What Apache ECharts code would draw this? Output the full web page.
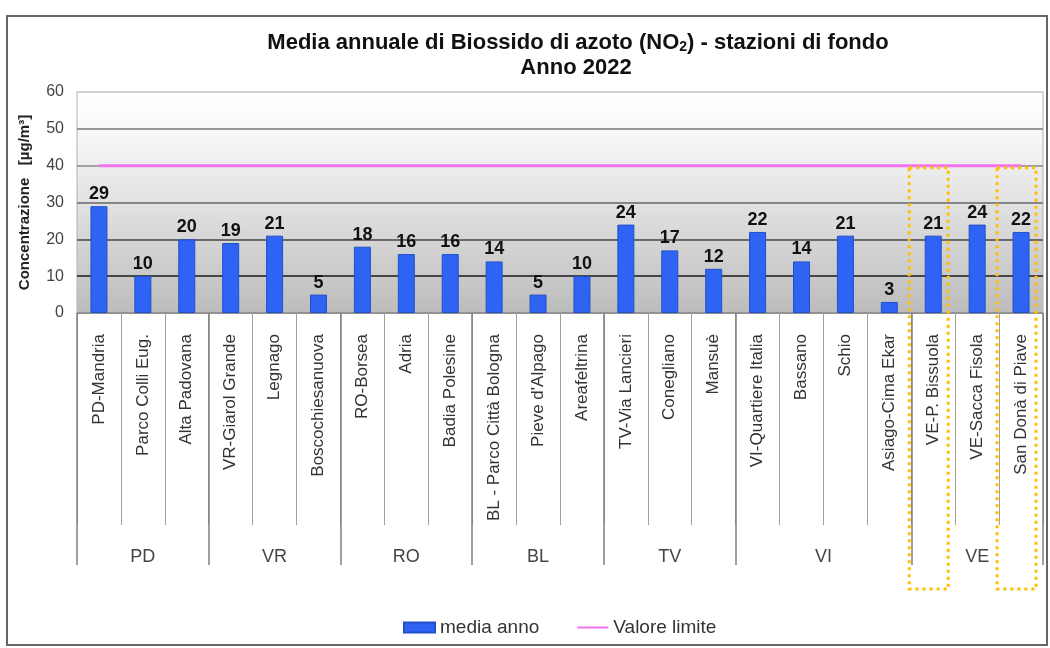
<!DOCTYPE html>
<html>
<head>
<meta charset="utf-8">
<script src="https://cdn.jsdelivr.net/npm/echarts@6/dist/echarts.min.js"></script>
<style>
  html, body { margin: 0; padding: 0; background: #fff; }
  #main { width: 1050px; height: 648px; }
</style>
</head>
<body>
<div id="main"></div>
<script>
// stazioni di fondo, media annuale NO2 2022
var stations = ['PD-Mandria', 'Parco Colli Eug.', 'Alta Padovana', 'VR-Giarol Grande', 'Legnago',
    'Boscochiesanuova', 'RO-Borsea', 'Adria', 'Badia Polesine', 'BL - Parco Città Bologna',
    "Pieve d'Alpago", 'Areafeltrina', 'TV-Via Lancieri', 'Conegliano', 'Mansuè',
    'VI-Quartiere Italia', 'Bassano', 'Schio', 'Asiago-Cima Ekar', 'VE-P. Bissuola',
    'VE-Sacca Fisola', 'San Donà di Piave'];
var mediaAnno = [29, 10, 20, 19, 21, 5, 18, 16, 16, 14, 5, 10, 24, 17, 12, 22, 14, 21, 3, 21, 24, 22];
var valoreLimite = 40;
var provinces = ['PD', 'VR', 'RO', 'BL', 'TV', 'VI', 'VE'];
var provinceSizes = [3, 3, 3, 3, 3, 4, 3];
var yTicks = [0, 10, 20, 30, 40, 50, 60];
var highlighted = ['VE-P. Bissuola', 'San Donà di Piave'];

var font = "'Liberation Sans', Arial, sans-serif";

// confini e centri dei gruppi (provincia)
var bounds = [0], mids = [];
provinceSizes.forEach(function (n, i) {
    var start = bounds[bounds.length - 1];
    mids.push(start + n / 2);
    bounds.push(start + n);
});

var chart = echarts.init(document.getElementById('main'));

chart.setOption({
    animation: false,
    legend: {
        bottom: 11,
        left: 403,
        padding: 0,
        itemGap: 37,
        itemWidth: 31,
        itemHeight: 10,
        textStyle: { fontFamily: font, fontSize: 19, color: '#333' },
        data: [
            { name: 'media anno', icon: 'rect' },
            { name: 'Valore limite', itemStyle: { opacity: 0 } }
        ]
    },
    grid: {
        left: 77,
        right: 7,
        top: 92,
        bottom: 335,
        show: true,
        borderColor: '#b0b0b0',
        borderWidth: 1,
        backgroundColor: new echarts.graphic.LinearGradient(0, 0, 0, 1, [
            { offset: 0, color: '#ffffff' },
            { offset: 0.17, color: '#f9f9f9' },
            { offset: 0.5, color: '#e2e2e2' },
            { offset: 1, color: '#bcbcbc' }
        ])
    },
    xAxis: [{
        type: 'category',
        data: stations,
        boundaryGap: true,
        axisLine: { lineStyle: { color: '#909090' } },
        axisTick: { show: true, interval: 0, length: 212, lineStyle: { color: '#a0a0a0' } },
        axisLabel: {
            interval: 0, rotate: 90, margin: 21,
            fontFamily: font, fontSize: 17, color: '#333'
        }
    }, {
        type: 'value',
        min: 0,
        max: stations.length,
        position: 'bottom',
        axisLine: { show: false },
        splitLine: { show: false },
        axisTick: { show: true, length: 252, customValues: bounds, lineStyle: { color: '#808080', width: 1.5 } },
        axisLabel: {
            customValues: mids,
            margin: 235,
            fontFamily: font, fontSize: 18, color: '#444',
            formatter: function (v) {
                var i = mids.indexOf(v);
                return i >= 0 ? provinces[i] : '';
            }
        }
    }],
    yAxis: {
        type: 'value',
        min: yTicks[0],
        max: yTicks[yTicks.length - 1],
        interval: 10,
        name: 'Concentrazione   [µg/m³]',
        nameLocation: 'middle',
        nameGap: 45,
        nameTextStyle: { fontFamily: font, fontSize: 15, fontWeight: 'bold', color: '#222' },
        axisLine: { show: false },
        axisTick: { show: false },
        axisLabel: { margin: 13, fontFamily: font, fontSize: 16, color: '#444' },
        splitLine: {
            lineStyle: { color: ['#888888', '#1a1a1a', '#444444', '#666666', '#888888', '#777777', '#cccccc'], width: 1.5 }
        }
    },
    series: [{
        name: 'media anno',
        type: 'bar',
        data: mediaAnno,
        barWidth: 17,
        itemStyle: { color: '#2e63f4', borderColor: '#2350c8', borderWidth: 1 },
        label: {
            show: true, position: 'top', distance: 3,
            fontFamily: font, fontSize: 18, fontWeight: 'bold', color: '#111'
        }
    }, {
        name: 'Valore limite',
        type: 'line',
        data: stations.map(function () { return valoreLimite; }),
        symbol: 'none',
        lineStyle: { color: '#f272ef', width: 3 },
        itemStyle: { color: '#f272ef' },
        z: 3
    }],
    graphic: [{
        type: 'rect',
        id: 'frame',
        shape: { x: 7, y: 16, width: 1040, height: 629 },
        style: { fill: 'none', stroke: '#666', lineWidth: 2 },
        silent: true
    }, {
        type: 'text',
        id: 'title1',
        x: 578, y: 43,
        style: {
            text: 'Media annuale di Biossido di azoto (NO{sub|2}) - stazioni di fondo',
            align: 'center', verticalAlign: 'middle',
            fontFamily: font, fontSize: 22, fontWeight: 'bold', fill: '#111',
            rich: {
                sub: { fontFamily: font, fontSize: 14, fontWeight: 'bold', fill: '#111', padding: [9, 0, 0, 0] }
            }
        }
    }, {
        type: 'text',
        id: 'title2',
        x: 576, y: 68,
        style: {
            text: 'Anno 2022',
            align: 'center', verticalAlign: 'middle',
            fontFamily: font, fontSize: 22, fontWeight: 'bold', fill: '#111'
        }
    }]
});

// riquadri tratteggiati sulle stazioni evidenziate
var boxes = highlighted.map(function (name, k) {
    var cx = chart.convertToPixel({ xAxisIndex: 0 }, name);
    var top = chart.convertToPixel({ yAxisIndex: 0 }, valoreLimite) + 2;
    return {
        type: 'rect',
        id: 'box' + k,
        shape: { x: cx - 24, y: top, width: 39, height: 589 - top },
        style: { fill: 'none', stroke: '#ffc000', lineWidth: 3, lineDash: [3, 4] },
        silent: true,
        z: 100
    };
});
chart.setOption({ graphic: boxes });
</script>
</body>
</html>
